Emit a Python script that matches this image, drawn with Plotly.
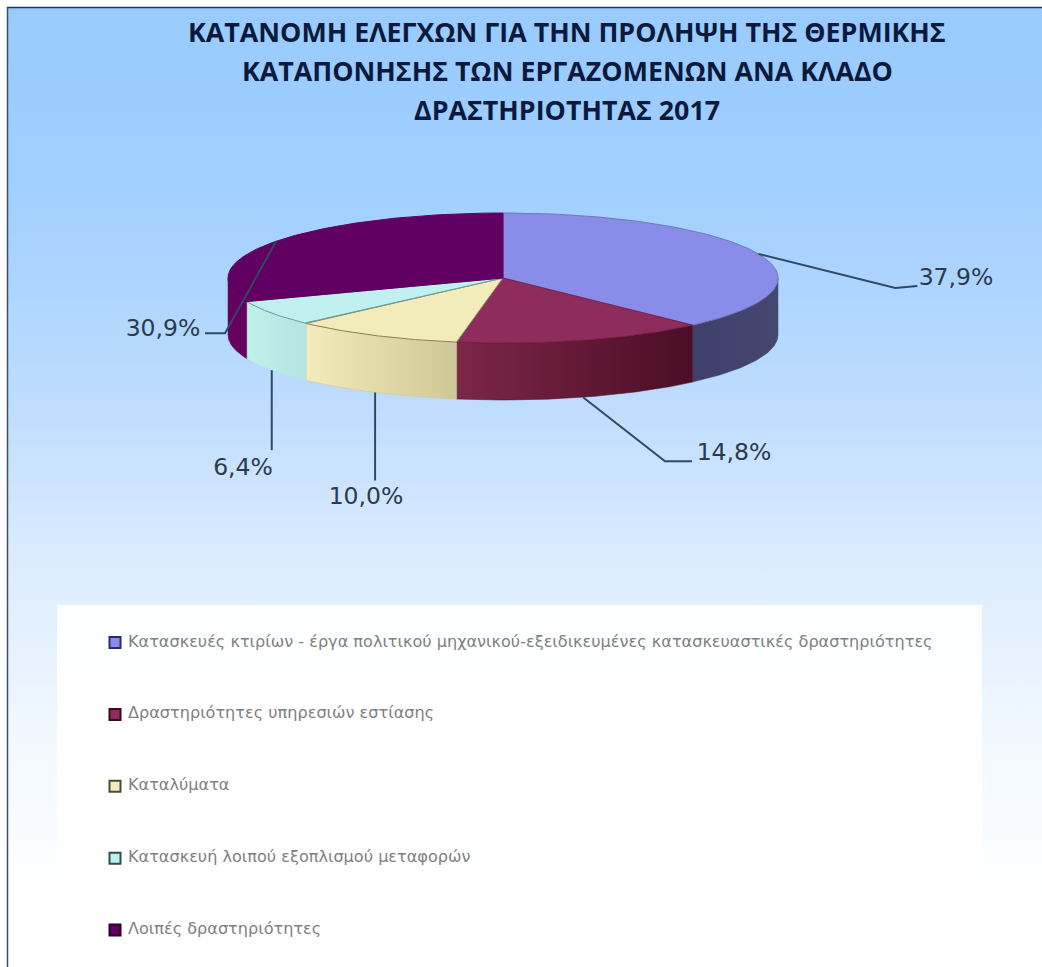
import numpy as np
import plotly.graph_objects as go

# ---- data ----
categories = [
    "Κατασκευές κτιρίων - έργα πολιτικού μηχανικού-εξειδικευμένες κατασκευαστικές δραστηριότητες",
    "Δραστηριότητες υπηρεσιών εστίασης",
    "Καταλύματα",
    "Κατασκευή λοιπού εξοπλισμού μεταφορών",
    "Λοιπές δραστηριότητες",
]
shares = [37.9, 14.8, 10.0, 6.4, 30.9]
title_lines = [
    "ΚΑΤΑΝΟΜΗ ΕΛΕΓΧΩΝ ΓΙΑ ΤΗΝ ΠΡΟΛΗΨΗ ΤΗΣ ΘΕΡΜΙΚΗΣ",
    "ΚΑΤΑΠΟΝΗΣΗΣ ΤΩΝ ΕΡΓΑΖΟΜΕΝΩΝ ΑΝΑ ΚΛΑΔΟ",
    "ΔΡΑΣΤΗΡΙΟΤΗΤΑΣ 2017",
]

# ---- styles ----
top_colors = ["#8A8CEA", "#8F2C5E", "#F1ECBA", "#C0F0F0", "#5F0062"]
top_lines = ["#6F78B8", "#7A2048", "#85835C", "#6F9A92", "#5F0062"]
side_grad = [
    ("#3E3F6C", "#46476F"),
    ("#7C2648", "#4A0E26"),
    ("#F3EBB9", "#CFC795"),
    ("#C0F0EA", "#B2E6E2"),
    ("#66005F", "#66005F"),
]
legend_marker_line = ["#2A2A70", "#3A0A20", "#4A4A38", "#2F4F4A", "#2A0030"]
CX, CY, RX, RY, DEPTH = 503.0, 278.0, 275.0, 65.0, 57.0
LINE_COLOR = "#2F4A63"
TEXT_COLOR = "#2B3A4E"
leader = [
    dict(elbow=[(137, 34), (159, 32)], text=(956, 279), side=False),
    dict(elbow=[(82, 64), (109, 64)], text=(734, 454), side=True),
    dict(elbow=[(0, 88)], text=(366, 498), side=True),
    dict(elbow=[(0, 80)], text=(243, 469), side=True),
    dict(elbow=[(-51, 92), (-71, 92)], text=(163, 330), side=False),
]

edges = np.concatenate([[0], np.cumsum(shares)]) / sum(shares) * 2 * np.pi


def px(t):
    return CX + RX * np.sin(t)


def py(t, drop=0.0):
    return CY - RY * np.cos(t) + drop


fig = go.Figure()

# background (fillgradient runs bottom to top on screen)
bg_stops = [
    (0.0, "#99CBFF"), (0.19, "#A1CFFF"), (0.41, "#BEDCFF"),
    (0.58, "#DCECFF"), (0.78, "#F3F9FF"), (0.93, "#FFFFFF"), (1.0, "#FFFFFF"),
]
bg_scale = [(round(1 - s, 3), c) for s, c in reversed(bg_stops)]
fig.add_trace(go.Scatter(
    x=[8, 1042, 1042, 8, 8], y=[8, 8, 967, 967, 8], mode="lines", fill="toself",
    line=dict(width=0), hoverinfo="skip",
    fillgradient=dict(type="vertical", colorscale=bg_scale),
))
# legend panel
fig.add_trace(go.Scatter(
    x=[57, 982, 982, 57, 57], y=[605, 605, 967, 967, 605], mode="lines", fill="toself",
    line=dict(width=0), fillcolor="rgba(255,255,255,0.96)", hoverinfo="skip",
))

# side walls (only the front half of the rim is visible)
for i in range(len(shares)):
    a, b = max(edges[i], np.pi / 2), min(edges[i + 1], 3 * np.pi / 2)
    if b <= a:
        continue
    t = np.linspace(a, b, 60)
    xs = np.concatenate([px(t), px(t[::-1])])
    ys = np.concatenate([py(t), py(t[::-1], DEPTH)])
    c0, c1 = side_grad[i]
    fig.add_trace(go.Scatter(
        x=np.append(xs, xs[0]), y=np.append(ys, ys[0]), mode="lines", fill="toself",
        line=dict(width=0.5, color=c1), hoverinfo="skip",
        fillgradient=dict(type="horizontal", colorscale=[(0, c0), (1, c1)]),
    ))

# top faces
for i in range(len(shares)):
    t = np.linspace(edges[i], edges[i + 1], 120)
    xs = np.concatenate([[CX], px(t), [CX]])
    ys = np.concatenate([[CY], py(t), [CY]])
    fig.add_trace(go.Scatter(
        x=xs, y=ys, mode="lines", fill="toself", fillcolor=top_colors[i],
        line=dict(width=1, color=top_lines[i]), hoverinfo="skip",
    ))

# leader lines
mids = (edges[:-1] + edges[1:]) / 2
for i, m in enumerate(mids):
    ax = px(m)
    ay = py(m, DEPTH if leader[i]["side"] else 0)
    xs = [ax] + [ax + d[0] for d in leader[i]["elbow"]]
    ys = [ay] + [ay + d[1] for d in leader[i]["elbow"]]
    fig.add_trace(go.Scatter(x=xs, y=ys, mode="lines", hoverinfo="skip",
                             line=dict(width=2, color=LINE_COLOR)))

# value labels
fig.add_trace(go.Scatter(
    x=[l["text"][0] for l in leader], y=[l["text"][1] for l in leader],
    mode="text", text=[f"{v:.1f}%".replace(".", ",") for v in shares],
    textposition="middle center", hoverinfo="skip",
    textfont=dict(family="DejaVu Sans", size=23.5, color=TEXT_COLOR),
))

# key
LEG_X, LEG_Y0, LEG_STEP = 115, 642.5, 71.9
fig.add_trace(go.Scatter(
    x=[LEG_X] * len(categories), y=[LEG_Y0 + LEG_STEP * i for i in range(len(categories))],
    mode="markers+text", text=[" " + c for c in categories], textposition="middle right",
    hoverinfo="skip",
    marker=dict(symbol="square", size=11, color=top_colors,
                line=dict(width=2, color=legend_marker_line)),
    textfont=dict(family="DejaVu Sans", size=16.1, color="#808080"),
))

# title
for line, y in zip(title_lines, [31, 70, 109]):
    fig.add_annotation(x=567, y=y, xref="x", yref="y", text=f"<b>{line}</b>", showarrow=False,
                       xanchor="center", yanchor="middle",
                       font=dict(family="Open Sans", size=26.8, color="#0B1A3C"))

# frame lines
fig.add_shape(type="line", x0=7.5, x1=7.5, y0=7, y1=967, line=dict(color="#39506B", width=1.5))
fig.add_shape(type="line", x0=7, x1=1042, y0=7.5, y1=7.5, line=dict(color="#1F3A5C", width=1.5))

fig.update_layout(
    width=1042, height=967, margin=dict(l=0, r=0, t=0, b=0), showlegend=False,
    paper_bgcolor="white", plot_bgcolor="white",
    xaxis=dict(range=[0, 1042], visible=False, fixedrange=True),
    yaxis=dict(range=[967, 0], visible=False, fixedrange=True),
)
fig.write_html("out.html", config={"displayModeBar": False},
               post_script="document.body.style.margin='0';document.body.style.overflow='hidden';")
